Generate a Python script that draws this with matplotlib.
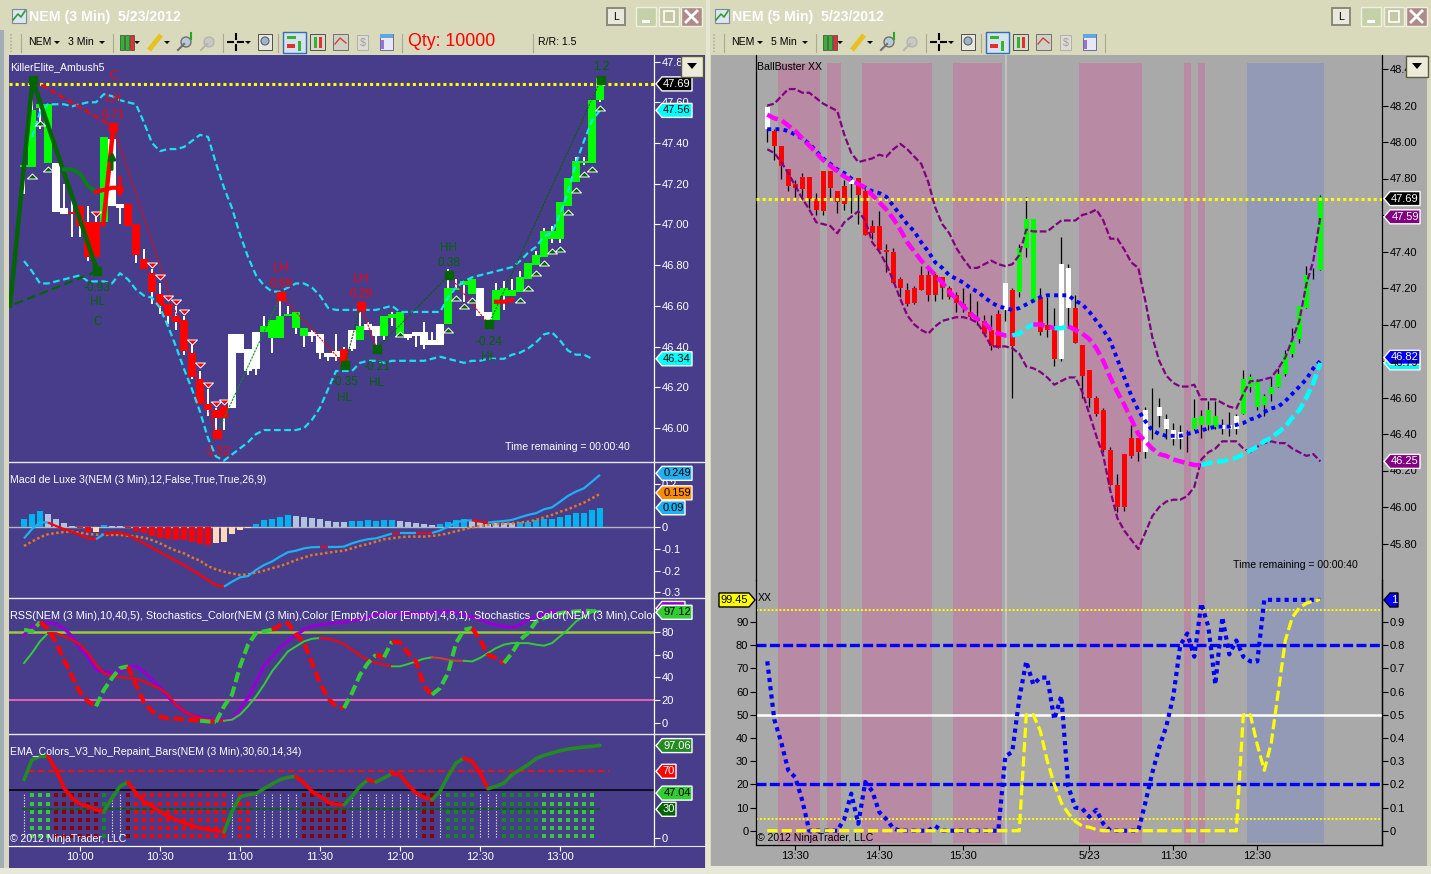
import numpy as np
import matplotlib
matplotlib.use("Agg")
import matplotlib.pyplot as plt
from matplotlib.patches import Rectangle, Polygon

plt.rcParams["font.family"] = ["Liberation Sans", "DejaVu Sans"]

W, H = 1431, 874

# --------------------------------------
# Left chart: NEM 3 min candles
# --------------------------------------
L_TOP = [47.29,47.56,47.59,47.59,47.30,47.08,47.06,47.09,47.01,47.01,47.43,47.42,47.10,47.10,47.00,46.83,46.76,46.66,46.61,46.55,46.53,46.37,46.24,46.12,46.09,46.11,46.46,46.46,46.39,46.47,46.50,46.53,46.55,46.56,46.57,46.49,46.47,46.46,46.37,46.38,46.39,46.48,46.50,46.51,46.50,46.55,46.56,46.57,46.46,46.47,46.47,46.43,46.51,46.69,46.69,46.72,46.73,46.69,46.57,46.68,46.69,46.68,46.74,46.81,46.85,46.97,46.97,47.11,47.23,47.31,47.31,47.61,47.72]
L_BOT = [47.28,47.28,47.57,47.30,47.06,47.05,47.05,46.99,46.84,46.84,47.01,47.09,47.08,46.99,46.85,46.78,46.67,46.60,46.55,46.52,46.38,46.25,46.12,46.09,46.05,46.05,46.10,46.37,46.28,46.29,46.47,46.44,46.44,46.55,46.49,46.45,46.45,46.37,46.35,46.35,46.31,46.39,46.43,46.48,46.45,46.45,46.54,46.45,46.44,46.45,46.41,46.41,46.41,46.51,46.68,46.70,46.66,46.55,46.53,46.53,46.65,46.65,46.67,46.73,46.80,46.84,46.93,46.93,47.09,47.21,47.30,47.30,47.61]
L_HIGH = [47.29,47.72,47.59,47.59,47.30,47.20,47.15,47.09,47.09,47.05,47.43,47.50,47.10,47.10,47.00,46.88,46.78,46.71,46.61,46.60,46.55,46.42,46.28,46.19,46.10,46.11,46.46,46.46,46.39,46.47,46.55,46.53,46.63,46.60,46.57,46.49,46.48,46.46,46.37,46.46,46.40,46.48,46.57,46.52,46.50,46.55,46.57,46.57,46.46,46.47,46.52,46.47,46.51,46.78,46.73,46.72,46.73,46.69,46.57,46.71,46.72,46.73,46.77,46.81,46.87,46.98,46.99,47.11,47.23,47.33,47.33,47.61,47.72]
L_LOW = [47.15,47.28,47.47,47.30,47.06,47.05,46.94,46.94,46.82,46.84,47.01,47.09,47.00,46.99,46.81,46.78,46.61,46.56,46.51,46.48,46.36,46.24,46.12,46.06,45.98,45.99,46.10,46.37,46.26,46.26,46.47,46.37,46.44,46.55,46.46,46.40,46.42,46.34,46.33,46.33,46.31,46.38,46.43,46.48,46.41,46.43,46.50,46.45,46.43,46.40,46.39,46.41,46.41,46.51,46.68,46.62,46.66,46.55,46.50,46.53,46.58,46.65,46.67,46.73,46.80,46.84,46.91,46.91,47.09,47.21,47.29,47.30,47.60]
L_COLORS = "gggg" "ww" "rrrr" "g" "ww" "rrrrrrrrrrrrr" "wwww" "gggggg" "wwww" "r" "w" "g" "ww" "ggg" "wwwww" "gggg" "ww" "gggggggggggggg"

L_UPPER = [47.43,47.55,47.59,47.59,47.59,47.58,47.59,47.60,47.60,47.64,47.63,47.61,47.60,47.59,47.50,47.40,47.36,47.37,47.37,47.38,47.41,47.44,47.43,47.30,47.18,47.08,46.95,46.84,46.75,46.70,46.67,46.67,46.69,46.71,46.71,46.69,46.65,46.59,46.58,46.58,46.58,46.58,46.58,46.58,46.59,46.60,46.57,46.57,46.57,46.57,46.57,46.57,46.64,46.69,46.72,46.74,46.75,46.76,46.77,46.78,46.79,46.82,46.86,46.89,46.94,46.96,47.05,47.16,47.30,47.41,47.51,47.56]
L_LOWER = [46.82,46.77,46.71,46.71,46.72,46.73,46.74,46.75,46.72,46.72,46.72,46.71,46.76,46.73,46.68,46.65,46.64,46.59,46.50,46.40,46.29,46.19,46.08,45.95,45.86,45.84,45.87,45.90,45.93,45.97,45.99,45.99,45.99,45.99,45.99,46.00,46.04,46.10,46.19,46.28,46.28,46.28,46.32,46.33,46.33,46.32,46.33,46.33,46.33,46.33,46.33,46.34,46.35,46.34,46.33,46.32,46.33,46.33,46.34,46.34,46.34,46.36,46.37,46.39,46.42,46.46,46.47,46.43,46.38,46.36,46.36,46.34]

SWING_X = [-1.75,1.08,9.17,11.17,24.08,32.1,40.1,42.1,44.1,53.1,58.1,72.1]
SWING_P = [46.60,47.71,46.77,47.48,45.97,46.65,46.31,46.60,46.39,46.75,46.51,47.71]

UP_X = [1,2,3,47,53,54,55,56,62,63,64,65,66,67,68,69,70,71,72]
UP_P = [47.24,47.50,47.27,46.46,46.48,46.64,46.60,46.63,46.63,46.69,46.76,46.81,46.87,46.88,47.06,47.17,47.25,47.27,47.57]
DOWN_X = [9,16,17,18,19,20,21,22,23,24,25]
DOWN_P = [47.05,46.80,46.74,46.64,46.62,46.57,46.42,46.31,46.21,46.12,46.13]

LAST_PRICE = 47.69
L_PRICE_TICKS = [46.0,46.2,46.4,46.6,46.8,47.0,47.2,47.4,47.6,47.8]
L_TIME_POS = [7,17,27,37,47,57,67]
L_TIME_LABELS = ["10:00","10:30","11:00","11:30","12:00","12:30","13:00"]

# Macd de Luxe
MACD_HIST = [.037,.06,.075,.06,.04,.02,.008,-.005,-.02,-.02,.009,.006,.006,-.005,-.017,-.028,-.038,-.048,-.055,-.058,-.058,-.07,-.077,-.083,-.074,-.066,-.03,-.012,-.005,.015,.034,.038,.049,.055,.052,.048,.043,.037,.03,.026,.026,.03,.03,.034,.03,.034,.034,.03,.026,.02,.015,.01,.015,.025,.034,.037,.034,.025,.015,.018,.018,.02,.023,.026,.034,.038,.04,.049,.057,.065,.065,.08,.088]
MACD_HIST_COLORS = "bbb" "gggg" "rr" "p" "b" "gg" "rrrrrrrrrrr" "ppppp" "bbbbb" "ggggggg" "bbbbbb" "ggggg" "bbbb" "gggggg" "bbbbbbbbbbb"
MACD_LINE = [-.051,-.008,.023,.022,.006,-.008,-.02,-.035,-.051,-.055,-.031,-.026,-.025,-.035,-.054,-.074,-.094,-.115,-.135,-.154,-.174,-.197,-.22,-.243,-.266,-.274,-.251,-.231,-.225,-.197,-.174,-.158,-.135,-.115,-.108,-.097,-.092,-.091,-.091,-.091,-.089,-.074,-.063,-.055,-.051,-.04,-.029,-.026,-.026,-.026,-.026,-.026,-.015,.003,.023,.031,.032,.026,.022,.026,.029,.034,.046,.057,.065,.083,.092,.118,.145,.165,.18,.211,.242]
MACD_SIGNAL = [-.086,-.066,-.046,-.032,-.026,-.022,-.02,-.025,-.031,-.034,-.035,-.035,-.035,-.039,-.042,-.048,-.059,-.074,-.092,-.108,-.12,-.139,-.154,-.179,-.194,-.205,-.213,-.22,-.217,-.209,-.2,-.189,-.179,-.166,-.151,-.139,-.128,-.123,-.117,-.112,-.108,-.097,-.086,-.077,-.066,-.055,-.051,-.046,-.043,-.043,-.043,-.04,-.035,-.028,-.018,-.009,0,.006,.011,.015,.017,.018,.022,.026,.034,.046,.057,.072,.083,.099,.114,.134,.154]
MACD_TICKS = [-.3,-.2,-.1,0,.2]
MACD_TICK_LABELS = ["-0.3","-0.2","-0.1","0","0.2"]

# RSS + stochastics
RSS_PURPLE = [77,85,87,88,87,83,76,66,58,47,45,44,45,49,50,45,38,31,23,16,10,7,5,4,3,3,3,12,22,36,50,58,66,72,77,82,85,86,87,88,88,90,91,93,95,96,96,96,96,96,96,97,97,98,97,95,93,91,88,86,85,84,86,91,93,96,98,98,98,98,98,98,98]
RSS_THIN = [52.6,61.4,71.6,78.9,78.9,76,73,68.7,61.4,51.1,43.8,40.9,40.3,39.4,38.8,36.5,33,30.1,24.8,16,10.2,6.7,4.3,2.9,2,2,2.9,7.3,14.6,23.3,33.6,45.3,54,62.8,67.2,71.6,73.9,74.5,73.9,72.2,69.2,64.3,59.3,55.5,52.6,51.1,49.7,49.7,51.7,54,56.4,57.6,57,55.5,54.6,54.6,54,57,61.4,65.7,68.7,70.1,70.1,70.1,68.7,67.8,70.1,76,81.8,89.1,93.5,97.3,98.5]
RSS_DASH = [81.8,80.4,88.5,82.7,70.7,55.5,40.9,26.9,19,14.6,29.2,39.4,48.2,49.7,33.6,18.1,10.2,5.8,3.8,3.8,3.2,2.6,2,1.4,.8,14.6,24.8,49.7,68.7,78.9,80.4,81.8,85.6,87.7,77.4,71,52.6,35,21.9,14.6,13.1,26.3,42.3,52.6,59.9,57.6,71.6,70.7,61.4,54,32.1,24.8,30.6,43.8,70.1,81.8,83.3,73,59.9,57,52.6,61.4,73,78.9,89.1,92.1,95,96.4,97.3,97.9,98.5,98.2,97.9]
RSS_TICKS = [0,20,40,60,80]

# EMA colours
EMA_LINE = [61.2,82.2,85.7,85.7,71.7,52.4,41.9,35.5,33.1,29.6,27.8,41.9,54.1,58.7,47.1,38.3,33.1,27.8,22.6,19.1,15.5,13.1,10.3,8.5,7.5,6.1,27.8,42.9,45.4,46.4,51.7,56.6,61.2,63.6,64.7,57.6,48.9,43.6,37.6,34.8,34.8,43.6,54.1,61.2,58.7,62.9,67.5,66.4,55.9,47.1,42.6,40.1,48.9,64.7,78.7,84,80.5,68.2,51.7,54.1,57.6,66.4,71.7,76.9,83.3,86.8,89.2,91.7,93.4,94.5,95.5,96.2,97.3]
EMA_DOT_ROWS = [44.7,35.5,27.1,18.7,10.3,2.2]
EMA_DOT_STATE = "w" "lll" "dddddd" "g" "ww" "d" "rrrrrrrrrrrr" "w" "rr" "wwwwww" "dddddd" "wwwwwwwww" "dd" "w" "gggg" "www" "ggggg" "lllllll"

# --------------------------------------
# Right chart: NEM 5 min candles
# --------------------------------------
R_TOP = [48.19,48.06,47.98,47.85,47.77,47.81,47.81,47.69,47.84,47.84,47.73,47.76,47.79,47.80,47.73,47.54,47.54,47.41,47.40,47.25,47.19,47.20,47.27,47.27,47.27,47.26,47.20,47.16,47.11,47.07,47.03,47.02,46.97,47.06,47.23,47.19,47.42,47.58,47.58,47.15,47.00,46.97,47.33,47.31,47.09,46.89,46.75,46.60,46.53,46.31,46.12,46.29,46.38,46.38,46.53,46.54,46.55,46.48,46.42,46.41,46.41,46.49,46.50,46.53,46.50,46.45,46.45,46.50,46.70,46.71,46.69,46.61,46.66,46.73,46.84,46.91,47.10,47.27,47.30,47.70]
R_BOT = [48.07,47.98,47.87,47.76,47.75,47.74,47.69,47.63,47.62,47.75,47.67,47.66,47.77,47.71,47.49,47.50,47.41,47.40,47.23,47.20,47.11,47.12,47.19,47.16,47.16,47.20,47.15,47.12,47.09,47.04,47.02,46.95,46.88,46.87,47.08,46.88,47.18,47.42,47.13,46.96,46.97,46.81,46.81,47.09,46.90,46.72,46.60,46.51,46.31,46.12,46.00,46.00,46.28,46.30,46.30,46.54,46.50,46.43,46.37,46.37,46.41,46.43,46.45,46.45,46.44,46.43,46.43,46.43,46.51,46.66,46.55,46.56,46.62,46.66,46.73,46.84,46.92,47.09,47.30,47.30]
R_HIGH = [48.20,48.07,47.98,47.85,47.79,47.83,47.81,47.72,47.84,47.84,47.73,47.79,47.81,47.80,47.74,47.57,47.62,47.44,47.42,47.26,47.23,47.21,47.32,47.32,47.28,47.26,47.21,47.18,47.20,47.17,47.13,47.05,47.05,47.08,47.23,47.20,47.44,47.70,47.58,47.20,47.15,47.09,47.48,47.33,47.16,46.89,46.75,46.61,46.54,46.33,46.18,46.29,46.45,46.38,46.55,46.65,46.60,46.51,46.46,46.45,46.42,46.59,46.53,46.58,46.58,46.48,46.52,46.51,46.75,46.73,46.70,46.62,46.71,46.76,46.86,46.98,47.10,47.32,47.31,47.71]
R_LOW = [48.00,47.90,47.80,47.73,47.70,47.68,47.64,47.60,47.60,47.68,47.61,47.63,47.61,47.55,47.49,47.47,47.41,47.29,47.23,47.15,47.10,47.11,47.19,47.13,47.13,47.14,47.14,47.07,47.07,47.03,47.00,46.94,46.86,46.87,47.02,46.60,47.15,47.37,47.13,46.94,46.93,46.77,46.80,46.98,46.90,46.60,46.55,46.50,46.30,46.12,45.97,45.98,46.27,46.25,46.27,46.37,46.44,46.37,46.34,46.32,46.30,46.42,46.38,46.42,46.43,46.40,46.39,46.40,46.51,46.63,46.53,46.50,46.58,46.66,46.72,46.82,46.90,47.09,47.25,47.30]
R_COLORS = "w" "rrrrrrrrrrr" "w" "rrrrrrrrrrrrrrrrrrrrr" "w" "r" "ggg" "rrr" "ww" "rrrrrrrrrr" "wwwwwww" "gggg" "www" "gggggggggggg"

R_MID = [48.15,48.13,48.12,48.09,48.06,48.02,47.98,47.94,47.90,47.87,47.84,47.81,47.79,47.77,47.75,47.71,47.67,47.63,47.58,47.52,47.45,47.40,47.35,47.31,47.27,47.23,47.18,47.14,47.10,47.06,47.03,47.01,46.97,46.95,46.94,46.94,46.95,46.98,47.00,47.00,46.99,46.98,46.98,46.99,46.97,46.95,46.92,46.87,46.80,46.71,46.63,46.56,46.48,46.40,46.36,46.32,46.29,46.28,46.26,46.25,46.24,46.23,46.23,46.24,46.25,46.25,46.26,46.27,46.29,46.31,46.33,46.36,46.38,46.41,46.44,46.49,46.53,46.60,46.68,46.79]
R_BLUE = [48.07,48.07,48.07,48.06,48.04,48.02,47.99,47.95,47.91,47.88,47.85,47.83,47.80,47.77,47.75,47.73,47.72,47.70,47.65,47.60,47.55,47.51,47.45,47.40,47.34,47.31,47.27,47.25,47.23,47.20,47.18,47.15,47.12,47.10,47.09,47.08,47.09,47.11,47.13,47.15,47.16,47.16,47.16,47.16,47.13,47.11,47.07,47.02,46.97,46.91,46.81,46.71,46.61,46.53,46.47,46.42,46.40,46.39,46.39,46.39,46.40,46.41,46.42,46.43,46.44,46.44,46.44,46.45,46.46,46.48,46.49,46.52,46.54,46.55,46.58,46.62,46.66,46.70,46.76,46.80]
R_UPPER = [48.20,48.21,48.25,48.29,48.29,48.27,48.27,48.24,48.21,48.19,48.17,48.04,47.94,47.89,47.90,47.91,47.93,47.92,47.96,47.99,47.96,47.92,47.88,47.78,47.64,47.55,47.50,47.42,47.36,47.31,47.31,47.33,47.35,47.33,47.32,47.33,47.38,47.52,47.51,47.51,47.51,47.54,47.57,47.57,47.57,47.60,47.61,47.63,47.57,47.47,47.47,47.41,47.34,47.31,47.13,46.93,46.80,46.72,46.68,46.66,46.66,46.67,46.59,46.59,46.59,46.57,46.55,46.54,46.62,46.69,46.69,46.70,46.71,46.76,46.82,46.92,47.02,47.22,47.35,47.59]
R_LOWER = [47.96,47.94,47.89,47.83,47.76,47.69,47.63,47.56,47.55,47.54,47.50,47.56,47.59,47.62,47.57,47.45,47.40,47.33,47.24,47.14,47.05,47.00,46.97,46.95,46.99,47.02,47.03,47.04,47.04,47.03,47.01,46.95,46.88,46.88,46.88,46.87,46.84,46.77,46.76,46.74,46.71,46.67,46.69,46.71,46.71,46.63,46.51,46.39,46.28,46.09,45.94,45.87,45.82,45.77,45.86,45.95,46.00,46.03,46.04,46.04,46.06,46.11,46.26,46.30,46.32,46.36,46.36,46.36,46.32,46.30,46.33,46.35,46.36,46.35,46.35,46.32,46.30,46.28,46.29,46.25]

R_PINK_START = [1.5,8.5,13.5,26.5,44.5,59.5,61.5]
R_PINK_END = [7.5,10.5,23.5,33.5,53.5,60.5,62.5]
R_BLUE_START, R_BLUE_END = 68.5, 79.5
R_SESSION_BREAK = 34.06
R_PRICE_TICKS = [45.8,46.0,46.2,46.4,46.6,46.8,47.0,47.2,47.4,47.6,47.8,48.0,48.2,48.4]
R_TIME_POS = [4,16,28,46,58,70]
R_TIME_LABELS = ["13:30","14:30","15:30","5/23","11:30","12:30"]

XX_BLUE = [73,48,38,26,23,13,0,0,0,0,0,5,16,3,21,17,8,5,1,0,0,0,0,0,2,0,0,0,0,0,0,0,0,0,32,34,57,73,63,66,66,48,58,19,10,9.5,6,9,3,0,0,0,0,0,12,25,36,45,58,80,85,75,98,88,63,92,76,82,75,73,73,99.5,99.5,99.5,99.5,99.5,99.5,99.5,99.5,99.5]
XX_YELLOW = [0]*37 + [50,50,43,30,20,12,7.5,4,2,1.5,.5] + [0]*20 + [50,50,37,26,38,60,82,92,96,98,99,99.5]
XX_TICKS = [0,10,20,30,40,50,60,70,80,90]

# --------------------------------------
# Colours
# --------------------------------------
PURPLE_BG = "#483d8b"
GRAY_BG = "#a9a9a9"
PINK = "#b88aa4"
SLATE = "#929ab6"
BAR_COL = {"g": "#00ff00", "r": "#ff0000", "w": "#ffffff"}
HIST_COL = {"b": "#00b2ee", "g": "#b0c4de", "r": "#ff0000", "p": "#ffdab9"}
DOT_COL = {"l": "#32cd32", "g": "#0f8b1f", "d": "#8b0000", "r": "#ff0000"}
DK_GREEN = "#006400"
FLAT_UP = [(-1, -0.5), (1, -0.5), (0, 0.5), (-1, -0.5)]
FLAT_DOWN = [(-1, 0.5), (1, 0.5), (0, -0.5), (-1, 0.5)]

fig = plt.figure(figsize=(W / 100, H / 100), dpi=100, facecolor="#d9dabb")


def panel(l, t, r, b):
    ax = fig.add_axes([l / W, 1 - b / H, (r - l) / W, (b - t) / H], zorder=2)
    ax.patch.set_visible(False)
    for s in ax.spines.values():
        s.set_visible(False)
    return ax


def px_ylim(ax, v_a, y_a, per_px, t, b):
    # value v_a sits at pixel row y_a, per_px value units per pixel
    ax.set_ylim(v_a - (b - y_a) * per_px, v_a + (y_a - t) * per_px)


# chrome + overlay axes work in screen pixels
chrome = fig.add_axes([0, 0, 1, 1], zorder=0)
overlay = fig.add_axes([0, 0, 1, 1], zorder=5)
for a in (chrome, overlay):
    a.axis("off")
overlay.patch.set_visible(False)


def rect(a, l, t, r, b, fc, ec="none", lw=0.7, **kw):
    a.add_patch(Rectangle((l, t), r - l, b - t, facecolor=fc, edgecolor=ec, linewidth=lw, **kw))


def grad(a, l, t, r, b, c1, c2):
    c = np.array([[matplotlib.colors.to_rgb(c1)], [matplotlib.colors.to_rgb(c2)]])
    a.imshow(c, extent=(l, r, b, t), aspect="auto", interpolation="bilinear")


def txt(x, y, s, color="white", size=7.6, ha="left", clip=None, a=None, **kw):
    t = (a or overlay).text(x, y, s, color=color, fontsize=size, ha=ha, va="center", **kw)
    if clip is not None:
        t.set_clip_box(clip.bbox)
        t.set_clip_on(True)
    return t


def tag(ax, value, s, fc, tc, x0, x1, ec="white", left=True):
    y = H - ax.transData.transform((0, value))[1]
    h = 7
    if left:
        pts = [(x0, y), (x0 + 6, y - h), (x1, y - h), (x1, y + h), (x0 + 6, y + h)]
        cx = (x0 + 6 + x1) / 2
    else:
        pts = [(x1, y), (x1 - 6, y - h), (x0, y - h), (x0, y + h), (x1 - 6, y + h)]
        cx = (x0 + x1 - 6) / 2
    overlay.add_patch(Polygon(pts, closed=True, facecolor=fc, edgecolor=ec, linewidth=1))
    txt(cx, y, s, color=tc, ha="center", size=8)


def candles(ax, top, bot, high, low, cols, width, wick, wick_lw):
    x = np.arange(len(top))
    ax.vlines(x, low, high, colors=wick, linewidth=wick_lw, zorder=2)
    ax.bar(x, np.array(top) - np.array(bot), bottom=bot, width=width,
           color=[BAR_COL[c] for c in cols], linewidth=0, zorder=3)


def seg(ax, x, y, parts, **kw):
    for a, b, c in parts:
        i0 = a - int(x[0])
        i1 = b - int(x[0]) + 1
        ax.plot(x[i0:i1], y[i0:i1], color=c, **kw)


def right_axis(ax, color, x_ticks=False):
    ax.yaxis.tick_right()
    ax.spines["right"].set_visible(True)
    ax.spines["right"].set_color(color)
    ax.spines["right"].set_linewidth(0.9)
    ax.tick_params(axis="y", colors=color, length=4.5, width=0.8, pad=1, labelsize=8)
    if not x_ticks:
        ax.set_xticks([])


# --------------------------------------
# Window chrome
# --------------------------------------
def toolbar(off, buttons_off, title, qty):
    grad(chrome, off + 4, 2, off + 704, 30, "#e4e5cc", "#cfd1ae")
    grad(chrome, off + 8, 31, off + 704, 55, "#fbfaf3", "#d3d3bc")
    rect(chrome, off + 12, 9, off + 26, 23, "#dfe6ee", ec="#7a8a9a", lw=0.8)
    chrome.plot([off + 13, off + 18, off + 21, off + 25], [20, 14, 17, 11], color="#2e9e3a", lw=1.2)
    txt(off + 29, 17, title, size=10.2, a=chrome, fontweight="bold")
    chrome.plot([off + 11] * 2, [34, 52], color="#b0b0a0", lw=1.2, ls=(0, (1, 1)))
    for x in (21, 113, 223, 278, 402):
        chrome.plot([off + x] * 2, [34, 52], color="#a8a896", lw=0.8)
    txt(off + 28, 42, "NEM", "black", a=chrome)
    txt(off + 68, 42, qty, "black", a=chrome)
    for x in (57, 102, 137, 167, 248):
        chrome.add_patch(Polygon([(off + x - 3, 41), (off + x + 3, 41), (off + x, 44)], fc="black"))
    # candle icon
    for x, c in ((120, "#2fb52f"), (125, "#2fb52f"), (130, "#e03030")):
        rect(chrome, off + x, 35, off + x + 4, 50, c, ec="#404040", lw=0.5)
    # pencil
    chrome.plot([off + 149, off + 161], [50, 35], color="#e8c020", lw=3.5, solid_capstyle="butt")
    # magnifiers
    chrome.plot([off + 178, off + 184], [50, 44], color="#707070", lw=1.5)
    chrome.add_patch(plt.Circle((off + 186, 42), 5, fc="#b9c9d8", ec="#707070", lw=1))
    chrome.plot([off + 191, off + 191], [33, 39], color="#22aa22", lw=1.5)
    chrome.plot([off + 201, off + 207], [50, 44], color="#b5b5b0", lw=1.5)
    chrome.add_patch(plt.Circle((off + 209, 42), 5, fc="#c8c8c4", ec="#b5b5b0", lw=1))
    # crosshair
    chrome.plot([off + 228, off + 233], [42, 42], color="black", lw=1.5)
    chrome.plot([off + 238, off + 243], [42, 42], color="black", lw=1.5)
    chrome.plot([off + 235.5, off + 235.5], [34, 39], color="black", lw=1.5)
    chrome.plot([off + 235.5, off + 235.5], [45, 50], color="black", lw=1.5)
    rect(chrome, off + 258, 34, off + 272, 50, "#e8e8e0", ec="#505050", lw=0.7)
    chrome.add_patch(plt.Circle((off + 265, 41), 4, fc="#9ab5cc", ec="#606060", lw=0.8))
    # selected + small panels
    rect(chrome, off + 283, 32, off + 306, 53, "#d5e1ee", ec="#2f6fb5", lw=1)
    rect(chrome, off + 287, 36, off + 296, 39, "#2fb52f")
    rect(chrome, off + 287, 44, off + 295, 48, "#e03030")
    rect(chrome, off + 298, 41, off + 301, 51, "#2fb52f")
    rect(chrome, off + 310, 34, off + 325, 50, "#d8d8cc", ec="#505050", lw=0.7)
    rect(chrome, off + 314, 37, off + 317, 48, "#2fb52f")
    rect(chrome, off + 319, 37, off + 322, 48, "#e03030")
    rect(chrome, off + 333, 34, off + 348, 50, "#d0d0c4", ec="#707070", lw=0.7)
    chrome.plot([off + 335, off + 340, off + 346], [44, 38, 43], color="#d04040", lw=1)
    rect(chrome, off + 357, 35, off + 368, 50, "#dcdcd4", ec="#b0b0a8", lw=0.7)
    txt(off + 362.5, 43, "$", "#a0a098", a=chrome, ha="center")
    rect(chrome, off + 380, 34, off + 393, 50, "#e8e8f4", ec="#6a6aa0", lw=0.7)
    rect(chrome, off + 380, 34, off + 393, 38, "#60a8dc")
    rect(chrome, off + 381, 40, off + 384, 49, "#9a70d0")
    # title buttons
    b = buttons_off
    rect(chrome, b + 607, 8, b + 625, 25, "#e8e8dc", ec="#8a8a7a", lw=1.4)
    txt(b + 616, 17, "L", "black", ha="center", a=chrome)
    rect(chrome, b + 636, 7, b + 656, 26, "#c4d0a8", ec="#eef0e0", lw=1)
    rect(chrome, b + 642, 20, b + 650, 23, "white")
    rect(chrome, b + 659, 7, b + 679, 26, "#c4c8a4", ec="#eef0e0", lw=1)
    rect(chrome, b + 664, 11, b + 674, 22, "none", ec="white", lw=1.2)
    rect(chrome, b + 681, 7, b + 702, 26, "#b08a88", ec="#eef0e0", lw=1)
    chrome.plot([b + 686, b + 697], [11, 22], color="white", lw=2)
    chrome.plot([b + 697, b + 686], [11, 22], color="white", lw=2)


rect(chrome, 0, 0, 1431, 874, "#d9dabb")
toolbar(0, 0, "NEM (3 Min)  5/23/2012", "3 Min")
toolbar(703, 725, "NEM (5 Min)  5/23/2012", "5 Min")
txt(408, 42, "Qty: 10000", "#ff0000", size=12.8, a=chrome)
chrome.plot([533, 533], [34, 52], color="#a8a896", lw=0.8)
txt(538, 42, "R/R: 1.5", "black", a=chrome)
rect(chrome, 0, 30, 4, 874, "#a3adb5")
rect(chrome, 4, 30, 9, 874, "#d8d8c0")
rect(chrome, 9, 55, 705, 868, PURPLE_BG)
rect(chrome, 706, 0, 710, 874, "#e6e6d4")
rect(chrome, 711, 55, 1427, 866, GRAY_BG)
rect(chrome, 0, 868, 706, 874, "#e8e8d8")
rect(chrome, 710, 866, 1431, 874, "#e8e8d8")

# --------------------------------------
# Left: price panel
# --------------------------------------
xl = (-1.875, 78.75)
ax1 = panel(9, 55, 654, 462)
ax1.set_xlim(*xl)
px_ylim(ax1, 46.0, 428, 1 / 203.6, 55, 462)
right_axis(ax1, "white")
ax1.set_yticks(L_PRICE_TICKS, [f"{v:.2f}" for v in L_PRICE_TICKS])
ax1.axhline(LAST_PRICE, color="#ffff00", lw=2.2, ls=(0, (1, 1)), zorder=4)
candles(ax1, L_TOP, L_BOT, L_HIGH, L_LOW, L_COLORS, 1.0, "white", 1.4)

cyan = dict(color="#19e1f0", lw=1.6, ls=(0, (3, 1.6)), zorder=5)
ax1.plot(np.arange(1, 1 + len(L_UPPER)), L_UPPER, **cyan)
ax1.plot(np.arange(len(L_LOWER)), L_LOWER, **cyan)

# zigzag legs
sx, sp = SWING_X, SWING_P
ax1.plot(sx[:3], sp[:3], color=DK_GREEN, lw=3.2, zorder=6)
ax1.plot([sx[2], sx[0]], [sp[2], sp[0]], color=DK_GREEN, lw=1.6, ls=(0, (4, 2)), zorder=6)
ax1.plot([sx[1], sx[3]], [sp[1], sp[3]], color="#ff0000", lw=1.6, ls=(0, (3, 1.5)), zorder=6)
ax1.plot([9.9, sx[3]], [47.0, sp[3]], color="#ff0000", lw=3.2, zorder=6)
for a, b, c in ((3, 4, "#ff0000"), (4, 5, "#0b8f1a"), (5, 6, "#ff0000"), (6, 7, DK_GREEN),
                (7, 8, "#ff0000"), (8, 9, DK_GREEN), (9, 10, "#ff0000"), (10, 11, DK_GREEN)):
    ax1.plot([sx[a], sx[b]], [sp[a], sp[b]], color=c, lw=0.8, ls=(0, (2, 1)), zorder=6)
green_swings = [1, 2, 6, 8, 9, 10, 11]
red_swings = [3, 4, 5, 7]
ax1.scatter([sx[k] for k in green_swings], [sp[k] for k in green_swings],
            marker="s", s=30, color=DK_GREEN, zorder=7)
ax1.scatter([sx[k] for k in red_swings], [sp[k] for k in red_swings],
            marker="s", s=30, color="#ff0000", zorder=7)

ax1.scatter(UP_X, UP_P, marker=FLAT_UP, s=52, c=DK_GREEN, edgecolors="white", linewidths=0.7, zorder=6)
ax1.scatter(DOWN_X, DOWN_P, marker=FLAT_DOWN, s=52, c="#ff0000", edgecolors="white", linewidths=0.7, zorder=6)

# short EMA pieces and the two arrows
ax1.plot([5, 6, 7, 8, 9], [47.27, 47.27, 47.25, 47.19, 47.16], color="#0b7d1a", lw=3, zorder=6)
ax1.plot([9, 10, 11, 12], [47.16, 47.17, 47.18, 47.18], color="#ff0000", lw=3, zorder=6)
ax1.plot([59, 60, 61], [46.62, 46.62, 46.63], color="#ff0000", lw=3, zorder=6)
ax1.annotate("", xy=(11, 47.36), xytext=(11, 47.27), zorder=7,
             arrowprops=dict(arrowstyle="-|>", color=DK_GREEN, lw=2.2, shrinkA=0, shrinkB=0))
ax1.annotate("", xy=(12, 47.13), xytext=(12, 47.23), zorder=7,
             arrowprops=dict(arrowstyle="-|>", color="#ff0000", lw=2.2, shrinkA=0, shrinkB=0))


def swing_label(ax, x, p, s, dy, color):
    ax.annotate(s, (x, p), xytext=(0, -dy * 0.72), textcoords="offset points",
                ha="center", va="center", color=color, fontsize=8.5, zorder=8)


for k, s, dy in ((3, "C", -51), (3, "LH", -28), (3, "0.71", -12), (5, "LH", -28), (5, "0.69", -12),
                 (4, "-1.52", 18), (7, "LH", -27), (7, "0.29", -12)):
    swing_label(ax1, sx[k], sp[k], s, dy, "#ff0000")
for k, s, dy in ((2, "-0.93", 17), (2, "HL", 31), (2, "C", 51), (6, "-0.35", 17), (6, "HL", 33),
                 (8, "-0.21", 18), (8, "HL", 34), (9, "HH", -27), (9, "0.38", -12),
                 (10, "-0.24", 18), (10, "HL", 33), (11, "1.2", -13)):
    swing_label(ax1, sx[k], sp[k], s, dy, DK_GREEN)

# --------------------------------------
# Left: Macd panel
# --------------------------------------
ax2 = panel(9, 462, 654, 598)
ax2.set_xlim(*xl)
px_ylim(ax2, 0, 527.3, 0.1 / 21.67, 462, 598)
right_axis(ax2, "white")
ax2.set_yticks(MACD_TICKS, MACD_TICK_LABELS)
ax2.axhline(0, color="#b5b5c8", lw=1, zorder=1)
xm = np.arange(len(MACD_HIST))
ax2.bar(xm, MACD_HIST, width=0.7, color=[HIST_COL[c] for c in MACD_HIST_COLORS], linewidth=0, zorder=2)
ax2.plot(xm, MACD_SIGNAL, color="#e8761e", lw=1.8, ls=(0, (1, 1)), zorder=3)
seg(ax2, xm, MACD_LINE, [(0, 3, "#1eb0f0"), (3, 9, "#ff0000"), (9, 10, "#1eb0f0"), (10, 25, "#ff0000"),
                         (25, 37, "#1eb0f0"), (37, 38, "#d01030"), (38, 46, "#1eb0f0"), (46, 47, "#d01030"),
                         (47, 49, "#1eb0f0"), (49, 51, "#d01030"), (51, 56, "#1eb0f0"), (56, 58, "#ff0000"),
                         (58, 72, "#1eb0f0")], lw=1.6, zorder=4, solid_capstyle="butt")

# --------------------------------------
# Left: RSS panel
# --------------------------------------
ax3 = panel(9, 598, 654, 734)
ax3.set_xlim(*xl)
px_ylim(ax3, 0, 723, 1 / 1.14, 598, 734)
right_axis(ax3, "white")
ax3.set_yticks(RSS_TICKS)
ax3.axhline(80, color="#9acd32", lw=1.8, zorder=1)
ax3.axhline(20, color="#ff69b4", lw=1.2, zorder=1)
xr = np.arange(len(RSS_THIN))
ax3.plot(xr, RSS_PURPLE, color="#9400d3", lw=2.4, zorder=2)
seg(ax3, xr, RSS_THIN, [(0, 3, "#32cd32"), (3, 25, "#ff0000"), (25, 37, "#32cd32"), (37, 46, "#ff0000"),
                        (46, 51, "#32cd32"), (51, 55, "#d0402a"), (55, 72, "#32cd32")], lw=1.4, zorder=3)
dash = dict(lw=2.9, ls=(0, (2.6, 1.1)), zorder=4)
seg(ax3, xr, RSS_DASH, [(0, 2, "#32cd32"), (2, 9, "#ff0000"), (9, 13, "#32cd32"), (13, 24, "#ff0000"),
                        (22, 24, "#32cd32"), (24, 31, "#32cd32"), (31, 40, "#ff0000"), (40, 44, "#32cd32"),
                        (44, 45, "#ff0000"), (45, 46, "#32cd32"), (46, 51, "#ff0000"), (51, 56, "#32cd32"),
                        (56, 60, "#ff0000"), (60, 72, "#32cd32")], **dash)

# --------------------------------------
# Left: EMA panel
# --------------------------------------
ax4 = panel(9, 734, 654, 846)
ax4.set_xlim(*xl)
px_ylim(ax4, 0, 837.8, 1 / 0.95, 734, 846)
right_axis(ax4, "white", x_ticks=True)
ax4.spines["bottom"].set_visible(True)
ax4.spines["bottom"].set_color("white")
ax4.spines["bottom"].set_linewidth(0.9)
ax4.set_yticks([0])
ax4.set_xticks(L_TIME_POS, L_TIME_LABELS)
ax4.tick_params(axis="x", colors="white", length=3.6, width=0.8, pad=0.5, labelsize=8)
ax4.axhline(50, color="black", lw=1.1, zorder=1)
ax4.axhline(70, color="#d81820", lw=1.6, ls=(0, (3, 1.5)), xmin=0.03, xmax=0.93, zorder=1)

xe = np.arange(len(EMA_LINE))
for k, st in enumerate(EMA_DOT_STATE):
    if st == "w":
        ax4.vlines(k, 1, 46, colors="white", lw=0.8, ls=(0, (1, 1.5)), zorder=2)
    else:
        ax4.scatter([k] * len(EMA_DOT_ROWS), EMA_DOT_ROWS, marker="s", s=9, c=DOT_COL[st], linewidths=0, zorder=2)
ax4.plot([-0.3, 72], [30, 30], color=DK_GREEN, lw=1.2, ls=(0, (3, 1)), zorder=3)
seg(ax4, xe, EMA_LINE, [(0, 3, "#228b22"), (3, 10, "#ff0000"), (10, 13, "#228b22"), (13, 25, "#ff0000"),
                        (25, 34, "#228b22"), (34, 40, "#ff0000"), (40, 43, "#228b22"), (43, 44, "#ff0000"),
                        (44, 46, "#228b22"), (46, 51, "#ff0000"), (51, 55, "#228b22"), (55, 58, "#ff0000"),
                        (58, 72, "#228b22")], lw=2.6, zorder=4, solid_capstyle="round")

# --------------------------------------
# Right: price panel
# --------------------------------------
xrr = (-1.61, 87.81)
ax5 = panel(756, 55, 1382, 580)
ax5.set_xlim(*xrr)
px_ylim(ax5, 46.0, 507, 1 / 182.5, 55, 580)
right_axis(ax5, "black")
ax5.spines["left"].set_visible(True)
ax5.spines["left"].set_color("black")
ax5.spines["left"].set_linewidth(0.9)
ax5.set_yticks(R_PRICE_TICKS, [f"{v:.2f}" for v in R_PRICE_TICKS])
top_frac = (580 - 63) / (580 - 55)
for a, b in zip(R_PINK_START, R_PINK_END):
    ax5.axvspan(a, b, ymax=top_frac, color=PINK, lw=0, zorder=0)
ax5.axvspan(R_BLUE_START, R_BLUE_END, ymax=top_frac, color=SLATE, lw=0, zorder=0)
ax5.axvline(R_SESSION_BREAK, color="#c8c8c8", lw=1.2, zorder=1)
ax5.axhline(LAST_PRICE, color="#ffff00", lw=2.2, ls=(0, (1, 1)), zorder=4)
candles(ax5, R_TOP, R_BOT, R_HIGH, R_LOW, R_COLORS, 0.72, "black", 0.9)
xb = np.arange(len(R_MID))
band = dict(color="#800080", lw=1.6, ls=(0, (3, 1.2)), zorder=5)
ax5.plot(xb, R_UPPER, **band)
ax5.plot(xb, R_LOWER, **band)
ax5.plot(xb, R_BLUE, color="#0000ff", lw=2.8, ls=(0, (1, 1.1)), zorder=6)
seg(ax5, xb, R_MID, [(0, 35, "#ff00ff"), (35, 38, "#00ffff"), (38, 41, "#ff00ff"), (41, 43, "#00ffff"),
                     (43, 62, "#ff00ff"), (62, 79, "#00ffff")], lw=3.2, ls=(0, (2.6, 1)), zorder=7)

# --------------------------------------
# Right: XX panel
# --------------------------------------
ax6 = panel(756, 580, 1382, 845)
ax6.set_xlim(*xrr)
px_ylim(ax6, 0, 830.7, 1 / 2.32, 580, 845)
right_axis(ax6, "black", x_ticks=True)
for side in ("left", "bottom"):
    ax6.spines[side].set_visible(True)
    ax6.spines[side].set_color("black")
    ax6.spines[side].set_linewidth(0.9)
ax6.yaxis.tick_left()
ax6.set_yticks(XX_TICKS)
ax6.tick_params(axis="y", colors="black", length=4.5, width=0.8, pad=1, labelsize=8)
ax6.set_xticks(R_TIME_POS, R_TIME_LABELS)
ax6.tick_params(axis="x", colors="black", length=3.6, width=0.8, pad=0.5, labelsize=8)
sec = ax6.secondary_yaxis("right", functions=(lambda v: v / 100, lambda v: v * 100))
sec.set_yticks([v / 100 for v in XX_TICKS], ["0"] + [f"{v / 100:.1f}" for v in XX_TICKS[1:]])
sec.tick_params(axis="y", colors="black", length=4.5, width=0.8, pad=1, labelsize=8)
sec.spines["right"].set_color("black")
sec.spines["right"].set_linewidth(0.9)

bot_frac = (845 - 843) / (845 - 580)
for a, b in zip(R_PINK_START, R_PINK_END):
    ax6.axvspan(a, b, ymin=bot_frac, color=PINK, lw=0, zorder=0)
ax6.axvspan(R_BLUE_START, R_BLUE_END, ymin=bot_frac, color=SLATE, lw=0, zorder=0)
ax6.axvline(R_SESSION_BREAK, color="#c8c8c8", lw=1.2, zorder=1)
ax6.axhline(50, color="white", lw=1.8, zorder=2)
for lv in (80, 20):
    ax6.axhline(lv, color="#0000ff", lw=2.4, ls=(0, (3, 1)), zorder=2)
for lv in (95, 5):
    ax6.axhline(lv, color="#ffff00", lw=1.4, ls=(0, (1, 1)), zorder=2)
xx = np.arange(len(XX_BLUE))
ax6.plot(xx, XX_BLUE, color="#0000ff", lw=3, ls=(0, (1, 1)), zorder=4)
ax6.plot(xx, XX_YELLOW, color="#ffff00", lw=2.3, ls=(0, (3.2, 1.3)), zorder=5)

# --------------------------------------
# Separators, names, tags
# --------------------------------------
overlay.set_xlim(0, W)
overlay.set_ylim(H, 0)
chrome.set_xlim(0, W)
chrome.set_ylim(H, 0)
for y in (462, 598, 734):
    overlay.plot([9, 705], [y, y], color="#e8e8f0", lw=1)
overlay.plot([654, 705], [846, 846], color="#e8e8f0", lw=0.8)

txt(10, 67, "KillerElite_Ambush5")
txt(10, 480, "Macd de Luxe 3(NEM (3 Min),12,False,True,True,26,9)")
txt(10, 616, "RSS(NEM (3 Min),10,40,5), Stochastics_Color(NEM (3 Min),Color [Empty],Color [Empty],4,8,1), "
             "Stochastics_Color(NEM (3 Min),Color", size=7.85, clip=ax3)
txt(10, 752, "EMA_Colors_V3_No_Repaint_Bars(NEM (3 Min),30,60,14,34)")
txt(10, 839, "© 2012 NinjaTrader, LLC")
txt(505, 447, "Time remaining = 00:00:40")
txt(757, 67, "BallBuster XX", "black")
txt(758, 598, "XX", "black")
txt(757, 838, "© 2012 NinjaTrader, LLC", "black")
txt(1233, 565, "Time remaining = 00:00:40", "black")

tag(ax1, 47.69, "47.69", "black", "white", 656, 692)
tag(ax1, 47.56, "47.56", "#00ffff", "black", 656, 692)
tag(ax1, 46.34, "46.34", "#00ffff", "black", 656, 692)
tag(ax2, 0.249, "0.249", "#1eb0f0", "black", 656, 692)
tag(ax2, 0.159, "0.159", "#ff8c00", "black", 656, 692)
tag(ax2, 0.09, "0.09", "#1eb0f0", "black", 656, 685)
tag(ax3, 100.5, "", "#9400d3", "white", 656, 685)
tag(ax3, 97.12, "97.12", "#32cd32", "black", 656, 692)
tag(ax4, 97.06, "97.06", "#228b22", "white", 656, 692)
tag(ax4, 70, "70", "#ff0000", "white", 656, 676)
tag(ax4, 47.04, "47.04", "#32cd32", "black", 656, 692)
tag(ax4, 30, "30", DK_GREEN, "white", 656, 676)

tag(ax5, 47.69, "47.69", "black", "white", 1384, 1420)
tag(ax5, 47.59, "47.59", "#800080", "white", 1384, 1420)
tag(ax5, 46.79, "46.79", "#00ffff", "black", 1384, 1420)
tag(ax5, 46.82, "46.82", "#0000ff", "white", 1384, 1420)
tag(ax5, 46.25, "46.25", "#800080", "white", 1384, 1420)
tag(ax6, 99.45, "1", "#0000ff", "white", 1384, 1398, ec="black")
tag(ax6, 99.45, "99.45", "#ffff00", "black", 719, 755, ec="black", left=False)

for l in (681, 1406):
    rect(overlay, l, 56, l + 22, 77, "#ecebd8", ec="#5a5a40", lw=1)
    overlay.add_patch(Polygon([(l + 6, 63), (l + 16, 63), (l + 11, 69)], fc="black"))

fig.savefig("out.png", dpi=100, facecolor=fig.get_facecolor())
